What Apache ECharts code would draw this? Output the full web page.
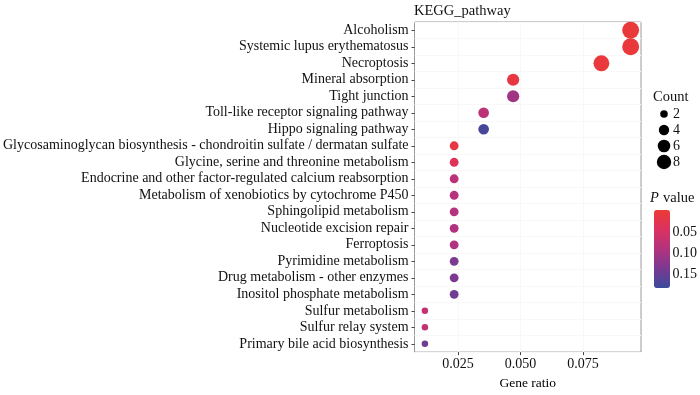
<!DOCTYPE html>
<html>
<head>
<meta charset="utf-8">
<script src="https://cdn.jsdelivr.net/npm/echarts@6/dist/echarts.min.js"></script>
<style>
html, body { margin: 0; padding: 0; background: #fff; }
#kegg_chart { width: 700px; height: 395px; }
</style>
</head>
<body>
<div id="kegg_chart"></div>
<script>
// KEGG 富集气泡图
var pathways = [
    'Alcoholism',
    'Systemic lupus erythematosus',
    'Necroptosis',
    'Mineral absorption',
    'Tight junction',
    'Toll-like receptor signaling pathway',
    'Hippo signaling pathway',
    'Glycosaminoglycan biosynthesis - chondroitin sulfate / dermatan sulfate',
    'Glycine, serine and threonine metabolism',
    'Endocrine and other factor-regulated calcium reabsorption',
    'Metabolism of xenobiotics by cytochrome P450',
    'Sphingolipid metabolism',
    'Nucleotide excision repair',
    'Ferroptosis',
    'Pyrimidine metabolism',
    'Drug metabolism - other enzymes',
    'Inositol phosphate metabolism',
    'Sulfur metabolism',
    'Sulfur relay system',
    'Primary bile acid biosynthesis'
];
var gene_count = [8, 8, 7, 4, 4, 3, 3, 2, 2, 2, 2, 2, 2, 2, 2, 2, 2, 1, 1, 1];
var gene_ratio = [0.0941, 0.0941, 0.0824, 0.0471, 0.0471, 0.0353, 0.0353, 0.0235, 0.0235, 0.0235,
                  0.0235, 0.0235, 0.0235, 0.0235, 0.0235, 0.0235, 0.0235, 0.0118, 0.0118, 0.0118];
var p_value = [0.002, 0.003, 0.004, 0.01, 0.105, 0.078, 0.175, 0.012, 0.035, 0.08,
               0.085, 0.088, 0.092, 0.092, 0.135, 0.136, 0.145, 0.07, 0.072, 0.145];
var x_ticks = [0.025, 0.050, 0.075];
var count_keys = [2, 4, 6, 8];
var p_ticks = [0.05, 0.10, 0.15];

var serif = '"Liberation Serif", "Times New Roman", serif';

function dotSize(c) {
    return 0.8 + 5.7 * Math.sqrt(c);
}

var points = [];
for (var i = 0; i < pathways.length; i++) {
    points.push([gene_ratio[i], pathways[i], p_value[i], gene_count[i]]);
}
var keyPoints = count_keys.map(function (c) { return [0.5, String(c), c]; });

var kegg_option = {
    backgroundColor: '#ffffff',
    animation: false,
    textStyle: { fontFamily: serif },
    grid: [
        { left: 413, right: 59, top: 22, bottom: 38, show: true, borderColor: '#9a9a9a', borderWidth: 1, backgroundColor: '#fff' },
        { left: 657, top: 106, width: 14, height: 64 },
        { left: 654, top: 210, width: 16, height: 78 }
    ],
    xAxis: [
        {
            gridIndex: 0,
            type: 'value',
            min: 0.00765,
            max: 0.09824,
            name: 'Gene ratio',
            nameLocation: 'middle',
            nameGap: 22,
            nameTextStyle: { fontFamily: serif, fontSize: 13.5, color: '#000' },
            axisLine: { show: false },
            axisTick: { show: true, length: 3, lineStyle: { color: '#444' }, customValues: x_ticks },
            axisLabel: {
                margin: 5, fontFamily: serif, fontSize: 14, color: '#111',
                customValues: x_ticks,
                formatter: function (v) { return v.toFixed(3); }
            },
            splitLine: { show: true, lineStyle: { color: '#f8f8f8', width: 1 } }
        },
        { gridIndex: 1, type: 'value', min: 0, max: 1, show: false },
        { gridIndex: 2, type: 'value', min: 0, max: 1, show: false }
    ],
    yAxis: [
        {
            gridIndex: 0,
            type: 'category',
            data: pathways,
            inverse: true,
            axisLine: { show: false },
            axisTick: { show: true, length: 3, alignWithLabel: true, lineStyle: { color: '#444' } },
            axisLabel: { margin: 6, fontFamily: serif, fontSize: 14, color: '#111', interval: 0 },
            splitLine: { show: true, lineStyle: { color: '#f8f8f8' } }
        },
        {
            gridIndex: 1,
            type: 'category',
            data: count_keys.map(String),
            inverse: true,
            position: 'right',
            axisLine: { show: false },
            axisTick: { show: false },
            axisLabel: { margin: 2, fontFamily: serif, fontSize: 14, color: '#111', interval: 0 }
        },
        {
            gridIndex: 2,
            type: 'value',
            min: -0.004,
            max: 0.184,
            inverse: true,
            position: 'right',
            z: 10,
            axisLine: { show: false },
            axisTick: { show: true, inside: true, length: 3, lineStyle: { color: '#fff' }, customValues: p_ticks },
            axisLabel: {
                margin: 3, fontFamily: serif, fontSize: 14, color: '#111',
                customValues: p_ticks,
                formatter: function (v) { return v.toFixed(2); }
            },
            splitLine: { show: false }
        }
    ],
    visualMap: {
        type: 'continuous',
        seriesIndex: 0,
        dimension: 2,
        min: -0.004,
        max: 0.184,
        inverse: true,
        orient: 'vertical',
        left: 654,
        top: 210,
        itemWidth: 16,
        itemHeight: 78,
        padding: 0,
        calculable: false,
        hoverLink: false,
        text: null,
        showLabel: false,
        inRange: { color: ['#ec3a35', '#da3260', '#b2327f', '#7a3a90', '#3b4a9c'] }
    },
    graphic: [
        { type: 'text', x: 414, y: 11, style: { text: 'KEGG_pathway', font: '14.5px ' + serif, fill: '#111', verticalAlign: 'middle' } },
        { type: 'text', x: 653, y: 97, style: { text: 'Count', font: '14.5px ' + serif, fill: '#111', verticalAlign: 'middle' } },
        { type: 'text', x: 650, y: 198, style: { text: 'P', font: 'italic 14.5px ' + serif, fill: '#111', verticalAlign: 'middle' } },
        { type: 'text', x: 663, y: 198, style: { text: 'value', font: '14.5px ' + serif, fill: '#111', verticalAlign: 'middle' } }
    ],
    series: [
        {
            type: 'scatter',
            xAxisIndex: 0,
            yAxisIndex: 0,
            data: points,
            symbolSize: function (v) { return dotSize(v[3]); },
            itemStyle: { opacity: 1 }
        },
        {
            type: 'scatter',
            xAxisIndex: 1,
            yAxisIndex: 1,
            data: keyPoints,
            symbolSize: function (v) { return dotSize(v[2]) * 0.85; },
            itemStyle: { color: '#000', opacity: 1 }
        }
    ]
};

var kegg_chart = echarts.init(document.getElementById('kegg_chart'));
kegg_chart.setOption(kegg_option);
</script>
</body>
</html>
